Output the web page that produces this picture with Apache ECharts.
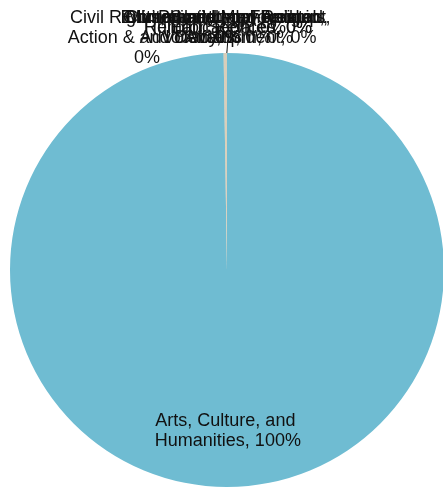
<!DOCTYPE html>
<html>
<head>
<meta charset="utf-8">
<script src="https://cdn.jsdelivr.net/npm/echarts@6/dist/echarts.min.js"></script>
<style>
html,body{margin:0;padding:0;background:#fff;}
#chart{width:443px;height:497px;}
</style>
</head>
<body>
<div id="chart"></div>
<script>
// Grant totals by program area
const categories = [
  'Arts, Culture, and Humanities',
  'Civil Rights, Social Action & Advocacy',
  'Community Improvement and Development',
  'Crime and Legal-Related',
  'Education',
  'Environment and Animals',
  'International, Foreign Affairs',
  'Philanthropy and Voluntarism',
  'Religion Related',
  'Mutual and Membership',
  'Human Services'
];
const values = [1000, 0.25, 0.25, 0.25, 0.25, 0.25, 0.25, 0.25, 0.25, 0.25, 0.25];
const colors = ['#6fbcd2', '#c8b99c', '#c8b99c', '#c8b99c', '#c8b99c', '#c8b99c', '#c8b99c', '#c8b99c', '#c8b99c', '#c8b99c', '#c8b99c'];

const FONT = 'Liberation Sans, Arial, sans-serif';
const chart = echarts.init(document.getElementById('chart'));
const data = categories.map((name, i) => {
  const item = { name: name, value: values[i], itemStyle: { color: colors[i] } };
  if (i === 0) {
    item.label = { position: 'inside', offset: [0, 50], width: 170, overflow: 'break' };
  }
  // a single leader tick above the thin slices
  item.labelLine = { show: i === 10 };
  return item;
});

chart.setOption({
  animation: false,
  series: [{
    type: 'pie',
    center: [227, 270],
    radius: [0, 217],
    startAngle: 90,
    clockwise: true,
    avoidLabelOverlap: false,
    data: data,
    itemStyle: { borderWidth: 0 },
    label: {
      show: true,
      position: 'outside',
      formatter: p => p.name + ', ' + Math.round(p.percent) + '%',
      color: '#111',
      fontFamily: FONT,
      fontSize: 18,
      lineHeight: 20,
      align: 'center',
      width: 225,
      overflow: 'break'
    },
    labelLine: { length: 6, length2: 0, lineStyle: { color: '#111', width: 1 } },
    labelLayout: function (p) {
      if (p.dataIndex === 0) return { hideOverlap: false };
      if (p.dataIndex === 1) {
        return { x: 147, y: 38, align: 'center', verticalAlign: 'middle', width: 165, hideOverlap: false };
      }
      return { x: 228, y: 28, align: 'center', verticalAlign: 'middle', hideOverlap: false };
    }
  }]
});
</script>
</body>
</html>
